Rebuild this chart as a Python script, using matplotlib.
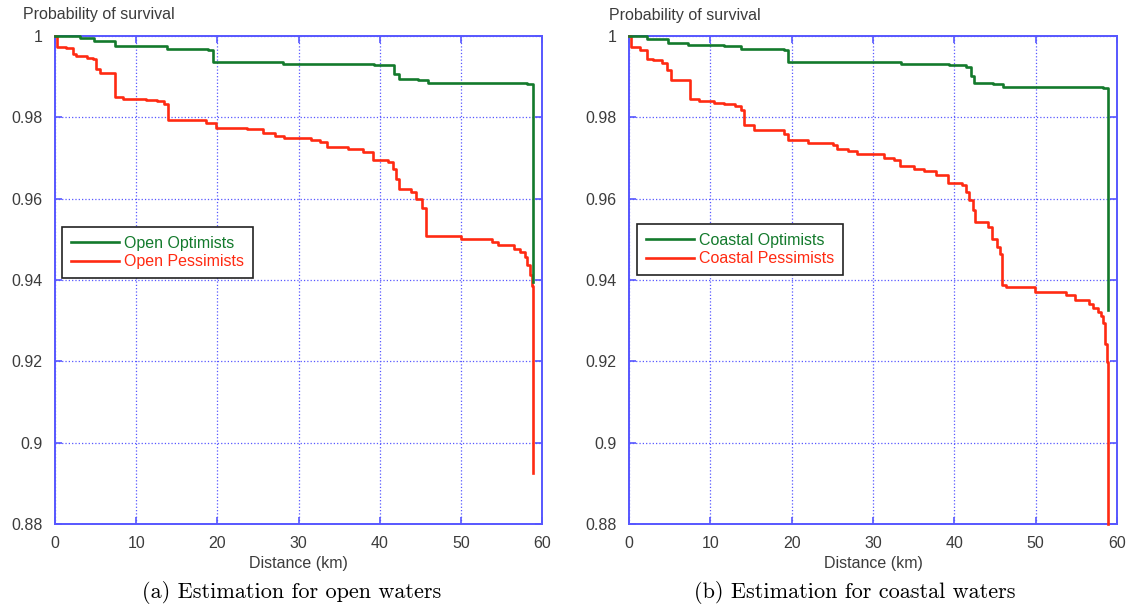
import matplotlib
matplotlib.use('Agg')
import matplotlib.pyplot as plt
from matplotlib.ticker import FormatStrFormatter

# open waters
open_opt_km = [0, 3.1, 4.8, 7.4, 13.8, 18.9, 19.5, 28.1, 39.3, 41.8, 42.4, 44.7, 45.9, 58.1, 58.9]
open_opt_p = [1.0, 0.9994, 0.9988, 0.9975, 0.9969, 0.9966, 0.9936, 0.9932, 0.9928, 0.9906, 0.9895,
              0.9892, 0.9885, 0.9883, 0.9395]

open_pes_km = [0, 0.3, 1.3, 2.2, 2.6, 4.0, 4.7, 5.0, 5.5, 7.4, 8.4, 11.2, 12.6, 13.4, 13.9, 18.6, 19.8,
               23.6, 25.6, 27.1, 28.2, 31.5, 32.6, 33.5, 36.1, 37.9, 39.2, 41.0, 41.6, 42.0, 42.4, 43.8,
               44.5, 45.2, 45.7, 50.0, 53.8, 54.6, 56.5, 57.3, 57.9, 58.2, 58.5, 58.8, 58.9]
open_pes_p = [1.0, 0.9973, 0.997, 0.9955, 0.9951, 0.9947, 0.9943, 0.9918, 0.991, 0.985, 0.9846, 0.9843,
              0.984, 0.9832, 0.9794, 0.9786, 0.9775, 0.9771, 0.9761, 0.9755, 0.9748, 0.9745, 0.9739,
              0.9726, 0.9721, 0.9714, 0.9696, 0.9689, 0.9673, 0.9648, 0.9625, 0.9617, 0.96, 0.9577,
              0.9508, 0.9502, 0.9494, 0.9485, 0.9477, 0.9469, 0.9456, 0.9436, 0.9413, 0.9386, 0.8926]

# coastal waters
coast_opt_km = [0, 2.2, 4.8, 7.3, 11.7, 13.8, 19.1, 19.5, 33.5, 39.3, 41.4, 42.0, 42.4, 44.7, 46.0,
                58.3, 58.9]
coast_opt_p = [1.0, 0.9992, 0.9983, 0.9979, 0.9975, 0.9968, 0.9965, 0.9935, 0.9932, 0.9928, 0.9924,
               0.9901, 0.9885, 0.9881, 0.9874, 0.9871, 0.9326]

coast_pes_km = [0, 0.2, 1.3, 2.2, 2.9, 4.0, 4.7, 5.2, 7.5, 8.6, 10.4, 11.7, 13.0, 13.8, 14.1, 15.4,
                19.0, 19.6, 22.0, 25.1, 25.6, 26.9, 28.0, 29.7, 31.3, 32.6, 33.3, 35.0, 36.3, 37.7,
                39.2, 40.9, 41.4, 41.8, 42.3, 42.5, 44.1, 44.6, 45.2, 45.6, 45.9, 46.4, 49.9, 53.7,
                54.8, 56.5, 57.1, 57.7, 58.0, 58.3, 58.5, 58.8, 58.85]
coast_pes_p = [1.0, 0.9973, 0.9966, 0.9944, 0.994, 0.9934, 0.9916, 0.9891, 0.9846, 0.984, 0.9836,
               0.9832, 0.9827, 0.9819, 0.978, 0.9768, 0.976, 0.9745, 0.9737, 0.9731, 0.9721, 0.9717,
               0.9711, 0.9709, 0.9701, 0.9694, 0.968, 0.9674, 0.9668, 0.9657, 0.9639, 0.9633, 0.9617,
               0.9596, 0.9572, 0.9543, 0.953, 0.9502, 0.9481, 0.9465, 0.9387, 0.9383, 0.9371, 0.9363,
               0.9352, 0.9341, 0.9332, 0.9322, 0.9312, 0.9294, 0.9242, 0.9199, 0.88]

x_ticks = [0, 10, 20, 30, 40, 50, 60]
y_ticks = [0.88, 0.90, 0.92, 0.94, 0.96, 0.98, 1.0]

GREEN = '#137a2c'
RED = '#ff2a12'
BLUE = '#5757ff'
GRAY = '#3c3c3c'

plt.rcParams['font.family'] = ['Liberation Sans', 'DejaVu Sans']
plt.rcParams['font.size'] = 11.5

fig = plt.figure(figsize=(11.31, 6.13), dpi=100)


def draw(ax, opt_km, opt_p, pes_km, pes_p, names, legend_xy):
    # red first, green on top like the reference
    ax.step(pes_km, pes_p, where='post', color=RED, lw=1.9, label=names[1], clip_on=False, zorder=3)
    ax.step(opt_km, opt_p, where='post', color=GREEN, lw=1.9, label=names[0], clip_on=False, zorder=4)

    ax.set_xlim(0, 60)
    ax.set_ylim(0.88, 1.0)
    ax.set_xticks(x_ticks)
    ax.set_yticks(y_ticks)
    ax.yaxis.set_major_formatter(FormatStrFormatter('%g'))
    ax.grid(True, color=BLUE, ls=':', lw=0.9)
    for s in ax.spines.values():
        s.set_color(BLUE)
        s.set_linewidth(1.4)
    ax.tick_params(direction='in', top=True, right=True, length=5, width=1.2,
                   color=BLUE, labelcolor=GRAY, pad=9)
    ax.set_xlabel('Distance (km)', color=GRAY, labelpad=3)

    # legend handles in the order optimists, pessimists
    h, l = ax.get_legend_handles_labels()
    leg = ax.legend(h[::-1], l[::-1], loc='upper left', bbox_to_anchor=legend_xy, borderaxespad=0,
                    fancybox=False, framealpha=1, edgecolor='#222222', borderpad=0.55,
                    labelspacing=0.22, handlelength=3.0, handletextpad=0.35, labelcolor='linecolor')
    leg.get_frame().set_linewidth(1.2)
    leg.set_zorder(5)


ax1 = fig.add_axes([55 / 1131, 89 / 613, 487 / 1131, 488 / 613])
draw(ax1, open_opt_km, open_opt_p, open_pes_km, open_pes_p,
     ['Open Optimists', 'Open Pessimists'], (0.0144, 0.6086))

ax2 = fig.add_axes([629 / 1131, 89 / 613, 488 / 1131, 488 / 613])
draw(ax2, coast_opt_km, coast_opt_p, coast_pes_km, coast_pes_p,
     ['Coastal Optimists', 'Coastal Pessimists'], (0.0164, 0.6148))

fig.text(23 / 1131, 1 - 19 / 613, 'Probability of survival', color=GRAY, va='baseline')
fig.text(609 / 1131, 1 - 20 / 613, 'Probability of survival', color=GRAY, va='baseline')

fig.text(292 / 1131, 1 - 598 / 613, '(a) Estimation for open waters', family='cmr10',
         fontsize=16, ha='center', va='baseline')
fig.text(855 / 1131, 1 - 598 / 613, '(b) Estimation for coastal waters', family='cmr10',
         fontsize=16, ha='center', va='baseline')

fig.savefig('out.png', dpi=100)
